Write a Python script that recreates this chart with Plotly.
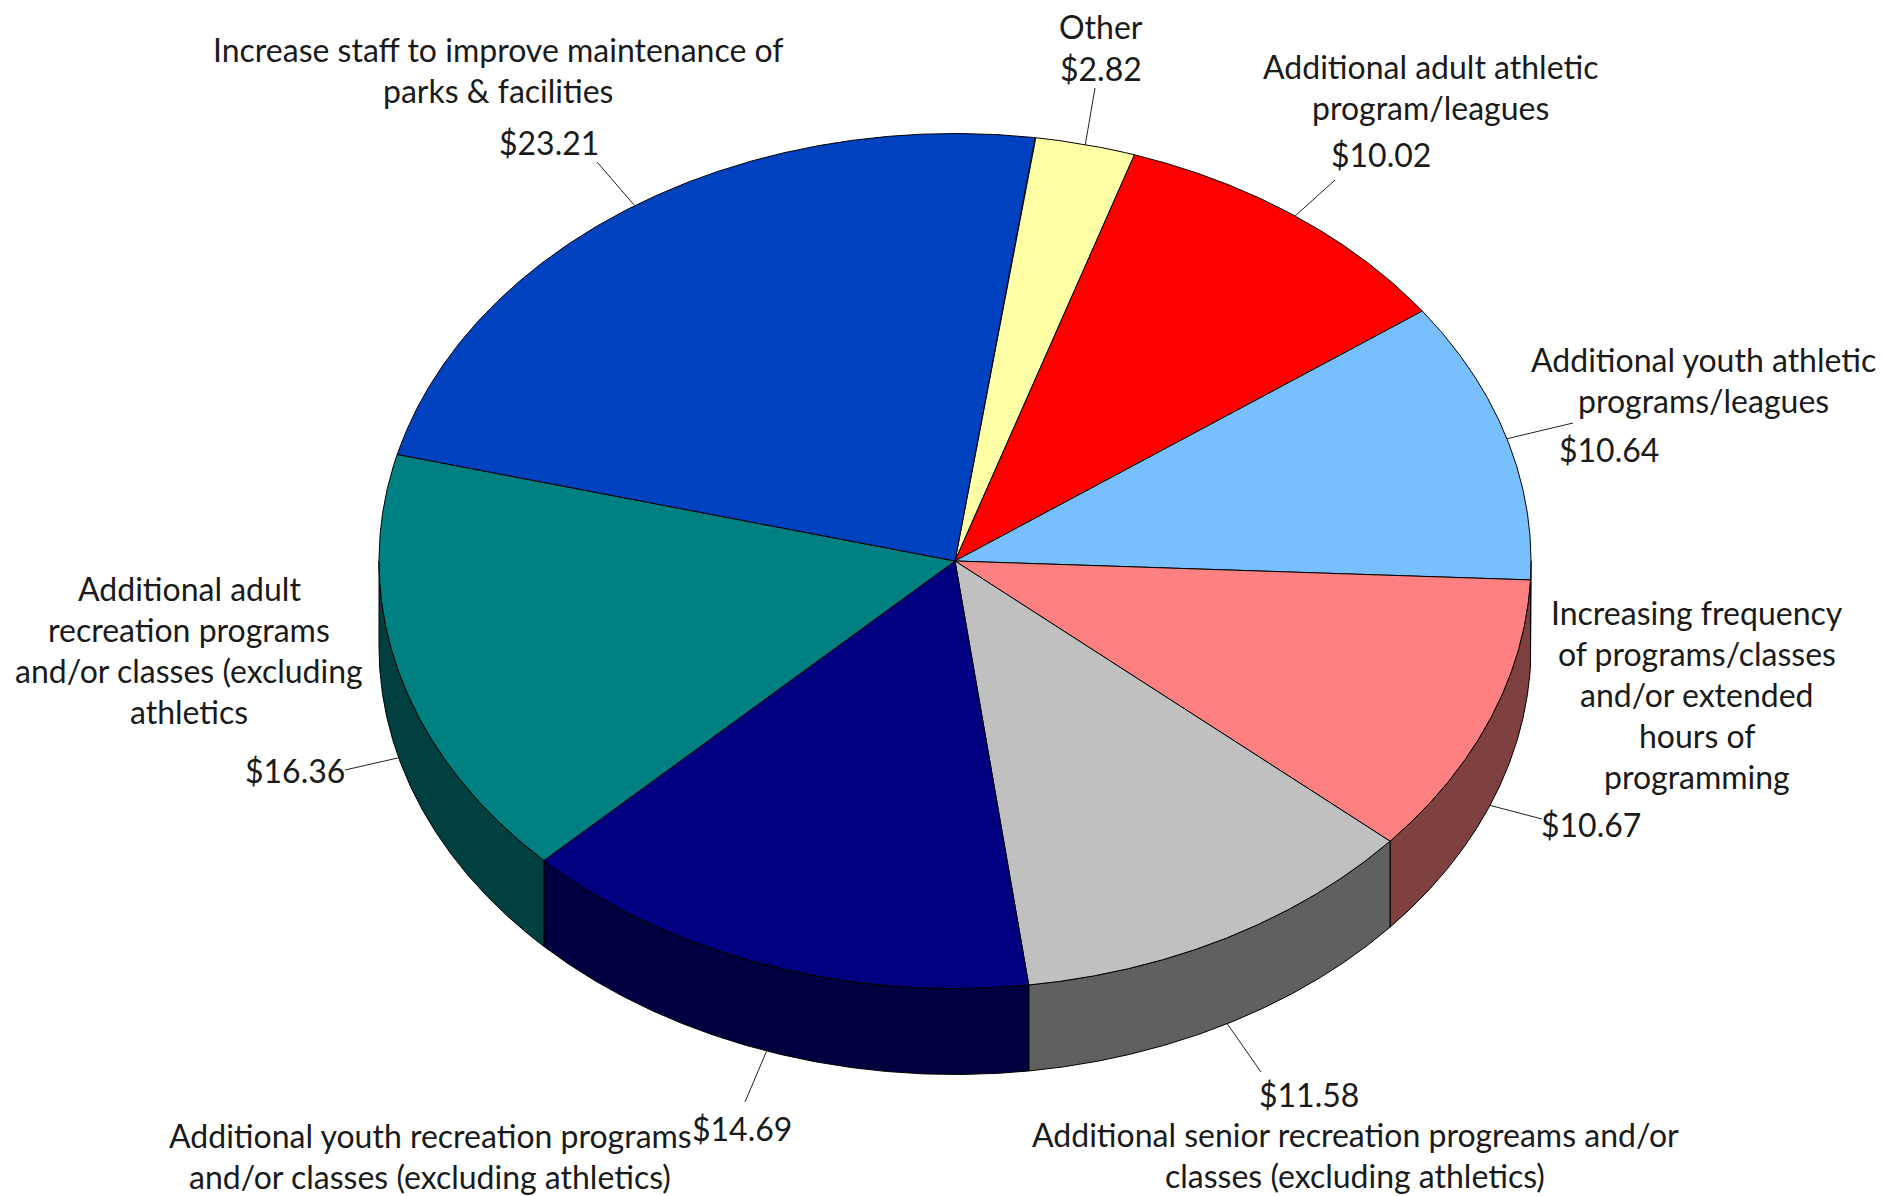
import numpy as np
import plotly.graph_objects as go

# ---------------- data ----------------
categories = [
    "Other",
    "Additional adult athletic program/leagues",
    "Additional youth athletic programs/leagues",
    "Increasing frequency of programs/classes and/or extended hours of programming",
    "Additional senior recreation progreams and/or classes (excluding athletics)",
    "Additional youth recreation programs and/or classes (excluding athletics)",
    "Additional adult recreation programs and/or classes (excluding athletics",
    "Increase staff to improve maintenance of parks & facilities",
]
values = [2.82, 10.02, 10.64, 10.67, 11.58, 14.69, 16.36, 23.21]
label_lines = [
    ["Other"],
    ["Additional adult athletic", "program/leagues"],
    ["Additional youth athletic", "programs/leagues"],
    ["Increasing frequency", "of programs/classes", "and/or extended", "hours of", "programming"],
    ["Additional senior recreation progreams and/or", "classes (excluding athletics)"],
    ["Additional youth recreation programs", "and/or classes (excluding athletics)"],
    ["Additional adult", "recreation programs", "and/or classes (excluding", "athletics"],
    ["Increase staff to improve maintenance of", "parks & facilities"],
]
top_colors = ["#FFFFA6", "#FF0000", "#77BFFF", "#FF8080", "#C0C0C0", "#000080", "#008080", "#0041C0"]
side_colors = ["#80804F", "#800000", "#3C6080", "#7F4040", "#606060", "#000040", "#004040", "#002060"]

# ---------------- layout / geometry ----------------
W, H = 1883, 1196
CX, CY = 955.0, 561.0
RX, RY = 576.0, 427.5
DEPTH = 86.0
START = 8.0  # degrees clockwise from 12 o'clock

# label placement: (name x, name first-line y, value x, value y, leader start x, leader start y)
label_pos = [
    (1101, 26, 1101, 68, 1095, 88),
    (1430, 66, 1381, 154, 1335, 180),
    (1703, 359, 1609, 449, 1573, 423),
    (1697, 612, 1591, 824, 1542, 819),
    (1355, 1134, 1309, 1094, 1261, 1072),
    (430, 1135, 742, 1128, 745, 1102),
    (189, 588, 295, 770, 345, 770),
    (498, 49, 549, 142, 597, 162),
]
LINE_H = 41
FONT = dict(family="Lato, 'Open Sans', sans-serif", size=32, color="#1a1a1a")


def pt(theta_deg, dz=0.0):
    t = np.radians(theta_deg)
    return CX + RX * np.sin(t), CY - RY * np.cos(t) + dz


total = float(sum(values))
bounds = [START]
for v in values:
    bounds.append(bounds[-1] + v / total * 360.0)

fig = go.Figure()

# side walls (front half only: 90..270 deg)
for i in range(len(values)):
    a, b = bounds[i], bounds[i + 1]
    for off in (0.0, 360.0):
        lo, hi = max(a, 90.0 + off), min(b, 270.0 + off)
        if hi <= lo:
            continue
        th = np.linspace(lo, hi, 200)
        xt, yt = pt(th)
        xb, yb = pt(th[::-1], DEPTH)
        xs = np.concatenate([xt, xb, xt[:1]])
        ys = np.concatenate([yt, yb, yt[:1]])
        fig.add_trace(go.Scatter(x=xs, y=ys, mode="lines", fill="toself",
                                 fillcolor=side_colors[i],
                                 line=dict(color="black", width=1),
                                 hoverinfo="skip", showlegend=False))

# top faces
for i in range(len(values)):
    a, b = bounds[i], bounds[i + 1]
    th = np.linspace(a, b, 300)
    xa, ya = pt(th)
    xs = np.concatenate([[CX], xa, [CX]])
    ys = np.concatenate([[CY], ya, [CY]])
    fig.add_trace(go.Scatter(x=xs, y=ys, mode="lines", fill="toself",
                             fillcolor=top_colors[i],
                             line=dict(color="black", width=1),
                             hoverinfo="skip", showlegend=False,
                             name=categories[i]))

# labels & leader lines
annotations = []
shapes = []
for i, v in enumerate(values):
    nx, ny, vx, vy, lx, ly = label_pos[i]
    for k, line in enumerate(label_lines[i]):
        annotations.append(dict(x=nx, y=ny + k * LINE_H, xref="x", yref="y",
                                text=line, showarrow=False, font=FONT,
                                xanchor="center", yanchor="middle"))
    annotations.append(dict(x=vx, y=vy, xref="x", yref="y",
                            text=f"${v:.2f}", showarrow=False, font=FONT,
                            xanchor="center", yanchor="middle"))
    mid = (bounds[i] + bounds[i + 1]) / 2.0
    front = np.cos(np.radians(mid)) < 0
    ex, ey = pt(mid, DEPTH if front else 0.0)
    shapes.append(dict(type="line", xref="x", yref="y", x0=lx, y0=ly,
                       x1=float(ex), y1=float(ey),
                       line=dict(color="#222222", width=1)))

fig.update_layout(
    width=W, height=H,
    margin=dict(l=0, r=0, t=0, b=0),
    paper_bgcolor="white", plot_bgcolor="white",
    xaxis=dict(range=[0, W], visible=False, fixedrange=True),
    yaxis=dict(range=[H, 0], visible=False, fixedrange=True),
    annotations=annotations,
    shapes=shapes,
    showlegend=False,
)

fig.write_html("out.html",
               config={"displayModeBar": False},
               post_script="document.body.style.margin='0';document.body.style.overflow='hidden';")
